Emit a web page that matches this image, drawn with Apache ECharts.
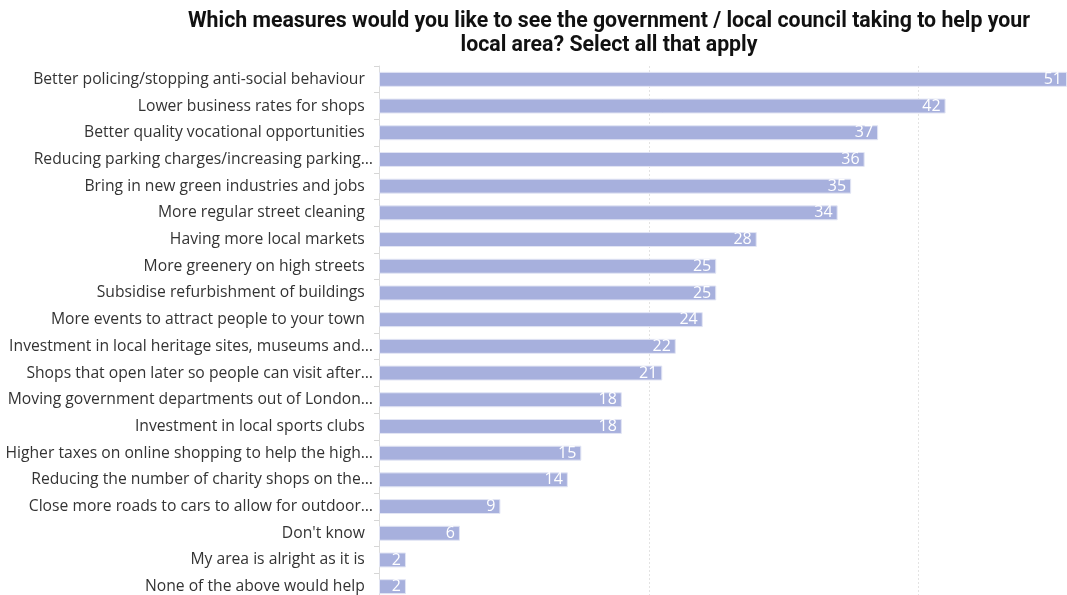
<!DOCTYPE html>
<html>
<head>
<meta charset="utf-8">
<style>
  html, body { margin: 0; padding: 0; background: #ffffff; overflow: hidden; }
  #chart { width: 1067px; height: 600px; }
</style>
<script src="https://cdn.jsdelivr.net/npm/echarts@6/dist/echarts.min.js"></script>
</head>
<body>
<div id="chart"></div>
<script>
// Survey answers, top to bottom
const categories = [
  'Better policing/stopping anti-social behaviour',
  'Lower business rates for shops',
  'Better quality vocational opportunities',
  'Reducing parking charges/increasing parking…',
  'Bring in new green industries and jobs',
  'More regular street cleaning',
  'Having more local markets',
  'More greenery on high streets',
  'Subsidise refurbishment of buildings',
  'More events to attract people to your town',
  'Investment in local heritage sites, museums and…',
  'Shops that open later so people can visit after…',
  'Moving government departments out of London…',
  'Investment in local sports clubs',
  'Higher taxes on online shopping to help the high…',
  'Reducing the number of charity shops on the…',
  'Close more roads to cars to allow for outdoor…',
  "Don't know",
  'My area is alright as it is',
  'None of the above would help'
];

// Share of respondents (%)
const values = [51, 42, 37, 36, 35, 34, 28, 25, 25, 24, 22, 21, 18, 18, 15, 14, 9, 6, 2, 2];

const titleText = 'Which measures would you like to see the government / local council taking to help your\nlocal area? Select all that apply';

const chart = echarts.init(document.getElementById('chart'), null, { renderer: 'canvas' });

chart.setOption({
  animation: false,
  backgroundColor: '#ffffff',
  title: {
    text: titleText,
    left: 604,
    top: 5,
    textAlign: 'center',
    textStyle: {
      fontFamily: 'Roboto',
      fontWeight: 700,
      fontSize: 21.3,
      lineHeight: 24,
      color: '#111111'
    }
  },
  grid: {
    left: 379,
    top: 66,
    right: 0,
    bottom: 0,
    containLabel: false
  },
  xAxis: {
    type: 'value',
    min: 0,
    max: 51,
    interval: 20,
    axisLine: { show: false },
    axisTick: { show: false },
    axisLabel: { show: false },
    splitLine: {
      show: true,
      showMinLine: false,
      showMaxLine: false,
      lineStyle: { color: '#e3e3e3', type: [2, 2], width: 1 }
    }
  },
  yAxis: {
    type: 'category',
    inverse: true,
    data: categories,
    axisLine: { show: true, lineStyle: { color: '#dcdcdc', width: 1 } },
    axisTick: { show: true, length: 5, lineStyle: { color: '#d6d6d6' } },
    axisLabel: {
      margin: 6,
      fontFamily: 'Open Sans',
      fontSize: 15.7,
      color: '#333333',
      formatter: function (v) { return v.endsWith('…') ? v : v + '  '; }
    }
  },
  series: [{
    type: 'bar',
    data: values,
    barCategoryGap: '44%',
    itemStyle: {
      color: '#a7b0dd',
      borderColor: '#e2e5f4',
      borderWidth: 1
    },
    label: {
      show: true,
      position: 'insideRight',
      distance: 5,
      fontFamily: 'Open Sans',
      fontSize: 16,
      color: '#ffffff'
    }
  }]
});
</script>
</body>
</html>
